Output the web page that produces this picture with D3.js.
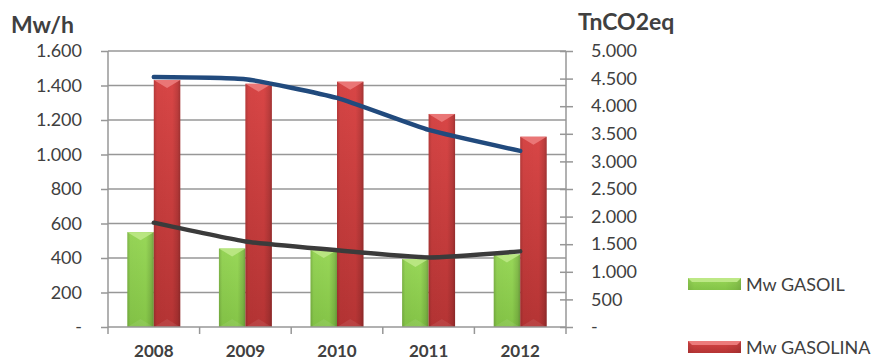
<!DOCTYPE html>
<html>
<head>
<meta charset="utf-8">
<script src="https://cdn.jsdelivr.net/npm/d3@7"></script>
<style>
  html, body { margin: 0; padding: 0; background: #ffffff; }
  svg { display: block; font-family: Lato, "Open Sans", sans-serif; }
</style>
</head>
<body>
<svg id="chart" width="875" height="360"></svg>
<script>
// Years on the category axis
const years = ["2008", "2009", "2010", "2011", "2012"];
// Energy consumption per fuel (Mw/h, left axis)
const mwGasoil   = [550, 455, 446, 394, 421];
const mwGasolina = [1432, 1410, 1422, 1235, 1103];
// Emissions per fuel (TnCO2eq, right axis)
const co2Gasolina = [4530, 4490, 4150, 3570, 3190];
const co2Gasoil   = [1890, 1550, 1390, 1260, 1370];
// Tick values for both axes
const leftTicks  = [0, 200, 400, 600, 800, 1000, 1200, 1400, 1600];
const rightTicks = [0, 500, 1000, 1500, 2000, 2500, 3000, 3500, 4000, 4500, 5000];
// Series labels
const barSeries = ["Mw GASOIL", "Mw GASOLINA"];

const svg = d3.select("#chart");
const plot = { left: 108, right: 566, top: 51, bottom: 327 };

const esLocale = d3.formatLocale({ decimal: ",", thousands: ".", grouping: [3], currency: ["", ""] });
const fmt = v => v === 0 ? "-" : esLocale.format(",.0f")(v);

const x0 = d3.scaleBand().domain(years).range([plot.left, plot.right]).padding(0);
const x1 = d3.scaleBand().domain(barSeries).range([0, x0.bandwidth()]).paddingInner(0).paddingOuter(0.73);
const yL = d3.scaleLinear().domain([0, 1600]).range([plot.bottom, plot.top]);
const yR = d3.scaleLinear().domain([0, 5000]).range([plot.bottom, plot.top]);

const gridColor = "#979797";
const textColor = "#404040";

// ---------- gradients ----------
const defs = svg.append("defs");
const palettes = {
  "Mw GASOIL":   { top: "#98d758", bottom: "#84c447", light: "#bde886" },
  "Mw GASOLINA": { top: "#d84646", bottom: "#b53434", light: "#ec7b7b" }
};
barSeries.forEach((s, i) => {
  const p = palettes[s];
  const g = defs.append("linearGradient").attr("id", "vg" + i)
    .attr("x1", 0).attr("y1", 0).attr("x2", 0).attr("y2", 1);
  g.append("stop").attr("offset", "0%").attr("stop-color", p.top);
  g.append("stop").attr("offset", "100%").attr("stop-color", p.bottom);
});
const hg = defs.append("linearGradient").attr("id", "edge")
  .attr("x1", 0).attr("y1", 0).attr("x2", 1).attr("y2", 0);
[[0, 0.16], [0.12, 0.02], [0.7, 0.0], [0.9, 0.12], [1, 0.25]].forEach(([o, a]) =>
  hg.append("stop").attr("offset", o).attr("stop-color", "#000").attr("stop-opacity", a));

// ---------- gridlines ----------
svg.append("g")
  .selectAll("line")
  .data(leftTicks.filter(d => d > 0))
  .join("line")
  .attr("x1", plot.left).attr("x2", plot.right)
  .attr("y1", d => yL(d)).attr("y2", d => yL(d))
  .attr("stroke", gridColor).attr("stroke-width", 1.5);

// ---------- bars ----------
const barGroups = svg.append("g")
  .selectAll("g")
  .data(years.map((y, i) => ({ year: y, vals: [mwGasoil[i], mwGasolina[i]] })))
  .join("g")
  .attr("transform", d => `translate(${x0(d.year)},0)`);

barGroups.each(function (d) {
  const g = d3.select(this);
  d.vals.forEach((v, si) => {
    const s = barSeries[si];
    const bx = x1(s), bw = x1.bandwidth();
    const by = yL(v), bh = yL(0) - yL(v);
    g.append("rect").attr("x", bx).attr("y", by).attr("width", bw).attr("height", bh)
      .attr("fill", `url(#vg${si})`);
    g.append("rect").attr("x", bx).attr("y", by).attr("width", bw).attr("height", bh)
      .attr("fill", "url(#edge)");
    // top bevel
    g.append("path")
      .attr("d", `M${bx},${by}L${bx + bw},${by}L${bx + bw / 2},${by + 8}Z`)
      .attr("fill", palettes[s].light).attr("opacity", 0.9);
    // bottom bevel
    g.append("path")
      .attr("d", `M${bx},${yL(0)}L${bx + bw},${yL(0)}L${bx + bw / 2},${yL(0) - 8}Z`)
      .attr("fill", "#ffffff").attr("opacity", 0.08);
  });
});

// ---------- axes ----------
const leftAxis = svg.append("g")
  .attr("transform", `translate(${plot.left},0)`)
  .call(d3.axisLeft(yL).tickValues(leftTicks).tickSize(7).tickPadding(19).tickFormat(fmt));
const rightAxis = svg.append("g")
  .attr("transform", `translate(${plot.right},0)`)
  .call(d3.axisRight(yR).tickValues(rightTicks).tickSize(7).tickPadding(18).tickFormat(fmt));
rightAxis.selectAll(".tick line").attr("x1", -6);

const bottomAxis = svg.append("g")
  .attr("transform", `translate(0,${plot.bottom})`)
  .call(d3.axisBottom(x0).tickSize(0).tickPadding(0));
bottomAxis.selectAll(".tick text")
  .attr("y", 30).attr("dy", 0)
  .style("font-weight", "bold").style("font-size", "17px");

// category boundary tick marks
const boundaries = years.map(y => x0(y)).concat([plot.right]);
bottomAxis.append("g").selectAll("line")
  .data(boundaries).join("line")
  .attr("x1", d => d).attr("x2", d => d).attr("y1", 0).attr("y2", 7)
  .attr("stroke", gridColor).attr("stroke-width", 1.5);

[leftAxis, rightAxis, bottomAxis].forEach(a => {
  a.select(".domain").attr("stroke", gridColor).attr("stroke-width", 1.5);
  a.selectAll(".tick line").attr("stroke", gridColor).attr("stroke-width", 1.5);
  a.selectAll(".tick text").attr("fill", textColor).style("font-family", "Lato, sans-serif");
});
leftAxis.selectAll(".tick text").style("font-size", "18px");
rightAxis.selectAll(".tick text").style("font-size", "18px");
leftAxis.select(".domain").attr("d", `M0,${plot.bottom}V${plot.top}`);
rightAxis.select(".domain").attr("d", `M0,${plot.bottom}V${plot.top}`);
bottomAxis.select(".domain").attr("d", `M${plot.left},0H${plot.right}`);

// ---------- lines ----------
const cx = y => x0(y) + x0.bandwidth() / 2;
const line = d3.line().x(d => cx(d.year)).y(d => yR(d.v)).curve(d3.curveCardinal.tension(0.55));
[[co2Gasoil, "#3b3b3b"], [co2Gasolina, "#214a7d"]].forEach(([vals, col]) => {
  svg.append("path")
    .datum(years.map((y, i) => ({ year: y, v: vals[i] })))
    .attr("d", line)
    .attr("fill", "none").attr("stroke", col)
    .attr("stroke-width", 4.5).attr("stroke-linecap", "round").attr("stroke-linejoin", "round");
});

// ---------- axis titles ----------
svg.append("text").attr("x", 11).attr("y", 33).text("Mw/h")
  .attr("fill", textColor).style("font-weight", "bold").style("font-size", "23px");
svg.append("text").attr("x", 578).attr("y", 30).text("TnCO2eq")
  .attr("fill", textColor).style("font-weight", "bold").style("font-size", "23px");

// ---------- legend ----------
const legend = svg.append("g");
const legendRows = [{ s: barSeries[0], y: 278 }, { s: barSeries[1], y: 341 }];
legendRows.forEach((r, i) => {
  const g = legend.append("g").attr("transform", `translate(688,${r.y})`);
  g.append("rect").attr("width", 53).attr("height", 12).attr("fill", `url(#vg${i})`);
  g.append("rect").attr("width", 53).attr("height", 12).attr("fill", "url(#edge)").attr("opacity", 0.5);
  g.append("path").attr("d", "M0,0H53L49,4H4Z").attr("fill", palettes[r.s].light);
  g.append("text").attr("x", 58).attr("y", 13).text(r.s)
    .attr("fill", textColor).style("font-size", "18px");
});
</script>
</body>
</html>
